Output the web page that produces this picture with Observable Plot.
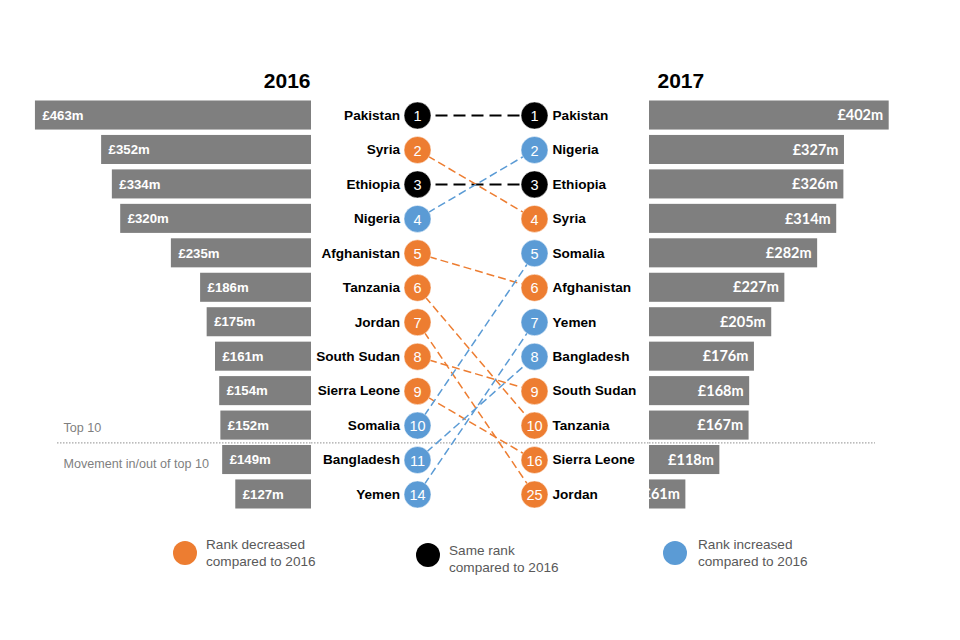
<!DOCTYPE html>
<html><head><meta charset="utf-8">
<script src="https://cdn.jsdelivr.net/npm/d3@7"></script>
<script src="https://cdn.jsdelivr.net/npm/@observablehq/plot@0.6"></script>
<style>
body{margin:0;background:#fff;font-family:"Liberation Sans",Arial,sans-serif;}
#chart{position:relative;width:960px;height:640px;overflow:hidden;background:#fff}
.part{position:absolute;top:0}
.part svg{display:block;overflow:visible;background:transparent}
.legend{position:absolute;display:flex;align-items:center;color:#595959;font-size:13.6px;line-height:17px;font-family:"Liberation Sans",Arial,sans-serif}
.legend .sw{width:24px;height:24px;border-radius:50%;flex:none}
</style></head>
<body><div id="chart"></div>
<script>
// ---- data ----
const countries2016 = ["Pakistan","Syria","Ethiopia","Nigeria","Afghanistan","Tanzania","Jordan","South Sudan","Sierra Leone","Somalia","Bangladesh","Yemen"];
const ranks2016 = [1,2,3,4,5,6,7,8,9,10,11,14];
const spend2016 = [463,352,334,320,235,186,175,161,154,152,149,127];
const countries2017 = ["Pakistan","Nigeria","Ethiopia","Syria","Somalia","Afghanistan","Yemen","Bangladesh","South Sudan","Tanzania","Sierra Leone","Jordan"];
const ranks2017 = [1,2,3,4,5,6,7,8,9,10,16,25];
const spend2017 = [402,327,326,314,282,227,205,176,168,167,118,61];
const years = ["2016","2017"];
const statusKeys = ["decreased","same","increased"];
const statusColors = ["#ED7D31","#000000","#5B9BD5"];
const legendLabels = [["Rank decreased","compared to 2016"],["Same rank","compared to 2016"],["Rank increased","compared to 2016"]];
const sectionLabels = ["Top 10","Movement in/out of top 10"];

// ---- derived tables ----
function statusOf(c){
  const r16 = ranks2016[countries2016.indexOf(c)];
  const r17 = ranks2017[countries2017.indexOf(c)];
  return r17 > r16 ? "decreased" : r17 < r16 ? "increased" : "same";
}
const rows16 = countries2016.map((c,i)=>({country:c, rank:ranks2016[i], spend:spend2016[i], row:i+1, year:2016, status:statusOf(c)}));
const rows17 = countries2017.map((c,i)=>({country:c, rank:ranks2017[i], spend:spend2017[i], row:i+1, year:2017, status:statusOf(c)}));
const nodes = rows16.concat(rows17);
const links = countries2016.map((c,i)=>({x1:2016, y1:i+1, x2:2017, y2:countries2017.indexOf(c)+1, status:statusOf(c)}));

const H = 640;
const yScale = {domain:[0.5,12.5], range:[97.8,511.2]};
const colorScale = {domain:statusKeys, range:statusColors};
const ff = "Liberation Sans, Arial, sans-serif";
const sepStyle = {stroke:"#A6A6A6", strokeDasharray:"1.5,1.5", strokeWidth:1.3};
const chart = document.getElementById("chart");
function place(el, left){ const d=document.createElement("div"); d.className="part"; d.style.left=left+"px"; d.appendChild(el); chart.appendChild(d); }

// left bars (2016)
const left = Plot.plot({
  width:311, height:H, margin:0,
  x:{domain:[0,521.6], range:[311,0], axis:null},
  y:{...yScale, axis:null},
  marks:[
    Plot.ruleY([10.5], {x1:426, x2:0, ...sepStyle}),
    Plot.rectX(rows16, {x1:0, x2:"spend", y1:d=>d.row-0.5, y2:d=>d.row+0.5, insetTop:2.7, insetBottom:2.7, fill:"#7F7F7F"}),
    Plot.text(rows16, {x:"spend", y:"row", text:d=>`£${d.spend}m`, textAnchor:"start", dx:7, fill:"white", fontWeight:"bold", fontSize:13.2, fontFamily:ff}),
    Plot.text([years[0]], {x:0, y:0, text:d=>d, textAnchor:"end", dx:-1, fontWeight:"bold", fontSize:21, fontFamily:ff, fill:"black"}),
    Plot.text([sectionLabels[0]], {frameAnchor:"left", y:10, dy:2, dx:63, textAnchor:"start", fill:"#7F7F7F", fontSize:12.6, fontFamily:ff}),
    Plot.text([sectionLabels[1]], {frameAnchor:"left", y:11, dy:4, dx:63, textAnchor:"start", fill:"#7F7F7F", fontSize:12.6, fontFamily:ff})
  ]
});
place(left, 0);

// middle slope
const mid = Plot.plot({
  width:338, height:H, margin:0,
  x:{domain:[2016,2017], range:[106,223], axis:null},
  y:{...yScale, axis:null},
  color:colorScale,
  marks:[
    Plot.ruleY([10.5], sepStyle),
    Plot.link(links.filter(d=>d.status==="same"), {x1:"x1", y1:"y1", x2:"x2", y2:"y2", stroke:"black", strokeWidth:2, strokeDasharray:"12,6"}),
    Plot.link(links.filter(d=>d.status!=="same"), {x1:"x1", y1:"y1", x2:"x2", y2:"y2", stroke:"status", strokeWidth:1.5, strokeDasharray:"8,4"}),
    Plot.dot(nodes, {x:"year", y:"row", r:13.5, fill:"status", stroke:"white", strokeWidth:0.5}),
    Plot.text(nodes, {x:"year", y:"row", text:d=>String(d.rank), fill:"white", fontSize:14.5, fontFamily:ff, dy:1}),
    Plot.text(rows16, {x:"year", y:"row", text:"country", textAnchor:"end", dx:-17.5, fontWeight:"bold", fontSize:13.6, fontFamily:ff, fill:"black"}),
    Plot.text(rows17, {x:"year", y:"row", text:"country", textAnchor:"start", dx:18, fontWeight:"bold", fontSize:13.6, fontFamily:ff, fill:"black"})
  ]
});
place(mid, 311);

// right bars (2017)
const right = Plot.plot({
  width:311, height:H, margin:0,
  x:{domain:[0,521.6], range:[0,311], axis:null},
  y:{...yScale, axis:null},
  marks:[
    Plot.ruleY([10.5], {x1:0, x2:379, ...sepStyle}),
    Plot.rectX(rows17, {x1:0, x2:"spend", y1:d=>d.row-0.5, y2:d=>d.row+0.5, insetTop:2.7, insetBottom:2.7, fill:"#7F7F7F"}),
    Plot.text(rows17, {x:"spend", y:"row", text:d=>`£${d.spend}m`, textAnchor:"end", dx:-6, fill:"white", fontWeight:"bold", fontSize:14.5, fontFamily:"Lato, Open Sans, sans-serif"}),
    Plot.text([years[1]], {x:0, y:0, text:d=>d, textAnchor:"start", dx:8, fontWeight:"bold", fontSize:21, fontFamily:ff, fill:"black"})
  ]
});
place(right, 649);

// legend
const legendPos = [{left:173, top:536, gap:9, shift:0},{left:416, top:542, gap:9, shift:-4},{left:663, top:536, gap:11, shift:0}];
legendLabels.forEach((lab,i)=>{
  const item = document.createElement("div");
  item.className = "legend";
  item.style.left = legendPos[i].left+"px";
  item.style.top = legendPos[i].top+"px";
  const sw = document.createElement("span");
  sw.className = "sw";
  sw.style.background = statusColors[i];
  sw.style.marginRight = legendPos[i].gap+"px";
  sw.style.position = "relative";
  sw.style.top = legendPos[i].shift+"px";
  const tx = document.createElement("span");
  tx.innerHTML = lab[0] + "<br>" + lab[1];
  item.appendChild(sw); item.appendChild(tx);
  chart.appendChild(item);
});
</script>
</body></html>
